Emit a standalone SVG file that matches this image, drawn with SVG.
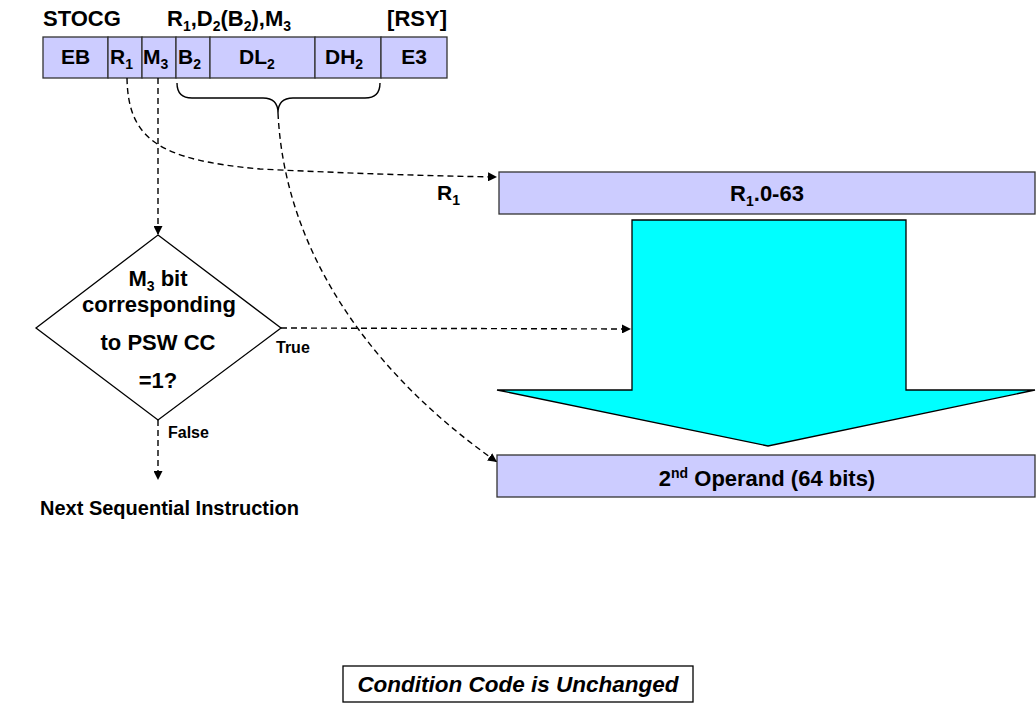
<svg xmlns="http://www.w3.org/2000/svg" width="1036" height="705" viewBox="0 0 1036 705">
<defs>
<style>
text{font-family:"Liberation Sans",Arial,sans-serif;font-weight:bold;fill:#000}
.t20{font-size:20px}
.t21{font-size:21px}
.t22{font-size:22px}
.t16{font-size:16px}
.c{text-anchor:middle}
.sub{font-size:14px}
.box{fill:#CCCCFF;stroke:#333;stroke-width:1.3}
.dash{fill:none;stroke:#000;stroke-width:1.4;stroke-dasharray:6 4}
</style>
<marker id="ah" viewBox="0 0 10 10" refX="10" refY="5" markerWidth="9" markerHeight="9" markerUnits="userSpaceOnUse" orient="auto">
<path d="M0,0 L10,5 L0,10 z" fill="#000"/>
</marker>
</defs>
<rect width="1036" height="705" fill="#fff"/>

<g id="header">
<text class="t22" x="43" y="26">STOCG</text>
<text class="t22" x="167" y="26">R<tspan class="sub" dy="5">1</tspan><tspan dy="-5">,D</tspan><tspan class="sub" dy="5">2</tspan><tspan dy="-5">(B</tspan><tspan class="sub" dy="5">2</tspan><tspan dy="-5">),M</tspan><tspan class="sub" dy="5">3</tspan></text>
<text class="t22" x="447" y="26" text-anchor="end">[RSY]</text>
</g>

<g id="instruction">
<rect class="box" x="43" y="37" width="65" height="41"/>
<rect class="box" x="108" y="37" width="34" height="41"/>
<rect class="box" x="142" y="37" width="34" height="41"/>
<rect class="box" x="176" y="37" width="34" height="41"/>
<rect class="box" x="210" y="37" width="105" height="41"/>
<rect class="box" x="315" y="37" width="66" height="41"/>
<rect class="box" x="381" y="37" width="66" height="41"/>
<text class="t21 c" x="75.5" y="64">EB</text>
<text class="t21" x="110" y="64">R<tspan class="sub" dy="5">1</tspan></text>
<text class="t21" x="143" y="64">M<tspan class="sub" dy="5">3</tspan></text>
<text class="t21" x="178" y="64">B<tspan class="sub" dy="5">2</tspan></text>
<text class="t21" x="239" y="64">DL<tspan class="sub" dy="5">2</tspan></text>
<text class="t21" x="325" y="64">DH<tspan class="sub" dy="5">2</tspan></text>
<text class="t21 c" x="414" y="64">E3</text>
</g>

<g id="brace">
<path d="M177,83 Q177,98 192,98 L263,98 Q278,98 278,113 Q278,98 293,98 L365,98 Q380,98 380,83" fill="none" stroke="#000" stroke-width="1.4"/>
</g>

<g id="decision">
<polygon points="158,235 281,328 158,420 36,328" fill="#fff" stroke="#000" stroke-width="1.3"/>
<text class="t22 c" x="158" y="286">M<tspan class="sub" dy="5">3</tspan><tspan dy="-5"> bit</tspan></text>
<text class="t22 c" x="159" y="312">corresponding</text>
<text class="t22 c" x="158" y="350">to PSW CC</text>
<text class="t22 c" x="158" y="388">=1?</text>
</g>

<g id="next">
<text class="t20" x="40" y="515">Next Sequential Instruction</text>
</g>

<g id="r1box">
<rect class="box" x="499" y="172" width="536" height="42"/>
<text class="t22 c" x="767" y="201">R<tspan class="sub" dy="5">1</tspan><tspan dy="-5">.0-63</tspan></text>
</g>

<g id="bigarrow">
<polygon points="632,220 906,220 906,390 1035,390 768,446 497,390 632,390" fill="#00FFFF" stroke="#000" stroke-width="1.3"/>
</g>

<g id="operand">
<rect class="box" x="497" y="455" width="538" height="42"/>
<text class="t22 c" x="767" y="486">2<tspan class="sub" dy="-8">nd</tspan><tspan dy="8"> Operand (64 bits)</tspan></text>
</g>

<g id="cc">
<rect x="343" y="666" width="350" height="36" fill="#fff" stroke="#000" stroke-width="1.3"/>
<text class="c" x="518" y="692" font-size="22.5" font-style="italic">Condition Code is Unchanged</text>
</g>

<g id="connectors">
<path class="dash" d="M127,78 C128,140 160,160 260,169 Q380,175 497,177" marker-end="url(#ah)"/>
<path class="dash" d="M158,78 L158,235" marker-end="url(#ah)"/>
<path class="dash" d="M278,113 C285,260 380,380 497,462" marker-end="url(#ah)"/>
<path class="dash" d="M281,328 L631,329" marker-end="url(#ah)"/>
<path class="dash" d="M158,420 L158,480" marker-end="url(#ah)"/>
</g>

<g id="labels">
<text class="t21" x="437" y="200">R<tspan class="sub" dy="5">1</tspan></text>
<text class="t16" x="276" y="353">True</text>
<text class="t16" x="168" y="438">False</text>
</g>
</svg>
